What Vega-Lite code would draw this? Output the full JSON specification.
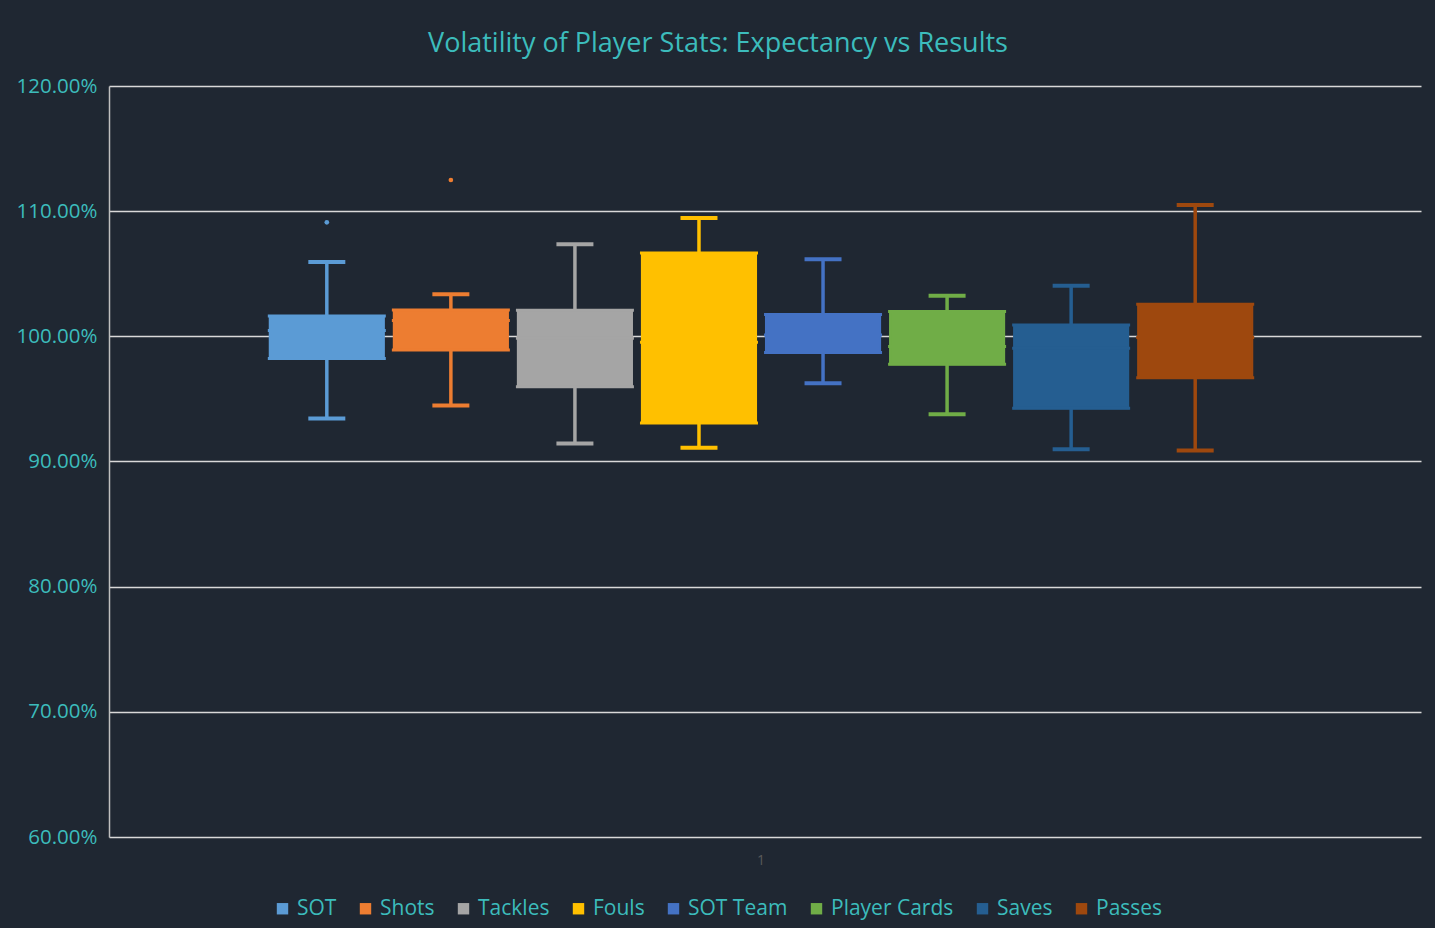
{
  "$schema": "https://vega.github.io/schema/vega-lite/v6.json",
  "autosize": {"type": "none"},
  "width": 1312,
  "height": 751,
  "padding": {"left": 109, "top": 86, "right": 14, "bottom": 91},
  "background": "#1f2732",
  "title": {
    "text": "Volatility of Player Stats: Expectancy vs Results",
    "color": "#3cbcbc",
    "font": "Open Sans",
    "fontSize": 27,
    "fontWeight": "normal",
    "anchor": "middle",
    "frame": "group",
    "dx": -47,
    "offset": 18
  },
  "config": {
    "view": {"stroke": null},
    "font": "Open Sans"
  },
  "datasets": {
    "stats": [
      {"grp": "1", "cat": "SOT", "min": 0.9343, "q1": 0.9822, "med": 1.0046, "q3": 1.0163, "max": 1.0594},
      {"grp": "1", "cat": "Shots", "min": 0.9447, "q1": 0.9890, "med": 1.0126, "q3": 1.0210, "max": 1.0336},
      {"grp": "1", "cat": "Tackles", "min": 0.9143, "q1": 0.9598, "med": 0.9985, "q3": 1.0208, "max": 1.0736},
      {"grp": "1", "cat": "Fouls", "min": 0.9109, "q1": 0.9308, "med": 0.9953, "q3": 1.0666, "max": 1.0946},
      {"grp": "1", "cat": "SOT Team", "min": 0.9625, "q1": 0.9870, "med": 1.0011, "q3": 1.0174, "max": 1.0616},
      {"grp": "1", "cat": "Player Cards", "min": 0.9378, "q1": 0.9777, "med": 0.9918, "q3": 1.0198, "max": 1.0325},
      {"grp": "1", "cat": "Saves", "min": 0.9098, "q1": 0.9426, "med": 0.9905, "q3": 1.0091, "max": 1.0405},
      {"grp": "1", "cat": "Passes", "min": 0.9087, "q1": 0.9670, "med": 0.9990, "q3": 1.0256, "max": 1.1050}
    ],
    "outliers": [
      {"grp": "1", "cat": "SOT", "value": 1.0911},
      {"grp": "1", "cat": "Shots", "value": 1.1249}
    ]
  },
  "encoding": {
    "x": {
      "field": "grp", "type": "nominal",
      "scale": {"paddingInner": 0, "paddingOuter": 0.161, "align": 0.4875},
      "axis": {
        "title": null, "domain": false, "ticks": false,
        "labelColor": "#5a5a5a", "labelFontSize": 14, "labelPadding": 16, "labelAngle": 0
      }
    },
    "xOffset": {
      "field": "cat", "type": "nominal",
      "sort": ["SOT", "Shots", "Tackles", "Fouls", "SOT Team", "Player Cards", "Saves", "Passes"],
      "scale": {"paddingInner": 0.08, "paddingOuter": 0.04}
    },
    "color": {
      "field": "cat", "type": "nominal",
      "sort": ["SOT", "Shots", "Tackles", "Fouls", "SOT Team", "Player Cards", "Saves", "Passes"],
      "scale": {
        "domain": ["SOT", "Shots", "Tackles", "Fouls", "SOT Team", "Player Cards", "Saves", "Passes"],
        "range": ["#5b9bd5", "#ed7d31", "#a5a5a5", "#ffc000", "#4472c4", "#70ad47", "#255e91", "#9e480e"]
      },
      "legend": {
        "title": null,
        "orient": "none",
        "direction": "horizontal",
        "legendX": 163,
        "legendY": 812,
        "symbolType": "square",
        "symbolSize": 130,
        "symbolStrokeWidth": 0,
        "symbolOpacity": 1,
        "labelColor": "#3cbcbc",
        "labelFontSize": 21,
        "labelFont": "Open Sans",
        "labelOffset": 4,
        "columnPadding": 18,
        "labelLimit": 300
      }
    }
  },
  "layer": [
    {
      "data": {"name": "stats"},
      "mark": {"type": "rule", "strokeWidth": 3.5},
      "encoding": {
        "y": {
          "field": "min", "type": "quantitative",
          "scale": {"domain": [0.6, 1.2], "nice": false, "zero": false},
          "axis": {
            "title": null,
            "values": [0.6, 0.7, 0.8, 0.9, 1.0, 1.1, 1.2],
            "format": ".2%",
            "grid": true, "gridColor": "#d9d9d9", "gridWidth": 1.5,
            "domain": true, "domainColor": "#bfbfbf", "domainWidth": 1.5,
            "ticks": false,
            "labelColor": "#3cbcbc", "labelFontSize": 20.5, "labelPadding": 12,
            "labelFont": "Open Sans"
          }
        },
        "y2": {"field": "max"}
      }
    },
    {
      "data": {"name": "stats"},
      "mark": {"type": "bar", "strokeWidth": 2, "opacity": 1},
      "encoding": {
        "y": {"field": "q1", "type": "quantitative"},
        "y2": {"field": "q3"},
        "stroke": {"field": "cat", "type": "nominal", "legend": null,
          "scale": {
            "domain": ["SOT", "Shots", "Tackles", "Fouls", "SOT Team", "Player Cards", "Saves", "Passes"],
            "range": ["#5b9bd5", "#ed7d31", "#a5a5a5", "#ffc000", "#4472c4", "#70ad47", "#255e91", "#9e480e"]
          }
        }
      }
    },
    {
      "data": {"name": "stats"},
      "mark": {"type": "tick", "thickness": 3, "size": 118, "opacity": 1},
      "encoding": {"y": {"field": "med", "type": "quantitative"}}
    },
    {
      "data": {"name": "stats"},
      "mark": {"type": "tick", "thickness": 3, "size": 118, "opacity": 1},
      "encoding": {"y": {"field": "q1", "type": "quantitative"}}
    },
    {
      "data": {"name": "stats"},
      "mark": {"type": "tick", "thickness": 3, "size": 118, "opacity": 1},
      "encoding": {"y": {"field": "q3", "type": "quantitative"}}
    },
    {
      "data": {"name": "stats"},
      "mark": {"type": "tick", "thickness": 4, "size": 37, "opacity": 1},
      "encoding": {"y": {"field": "min", "type": "quantitative"}}
    },
    {
      "data": {"name": "stats"},
      "mark": {"type": "tick", "thickness": 4, "size": 37, "opacity": 1},
      "encoding": {"y": {"field": "max", "type": "quantitative"}}
    },
    {
      "data": {"name": "outliers"},
      "mark": {"type": "circle", "size": 22, "opacity": 1},
      "encoding": {"y": {"field": "value", "type": "quantitative"}}
    }
  ]
}
